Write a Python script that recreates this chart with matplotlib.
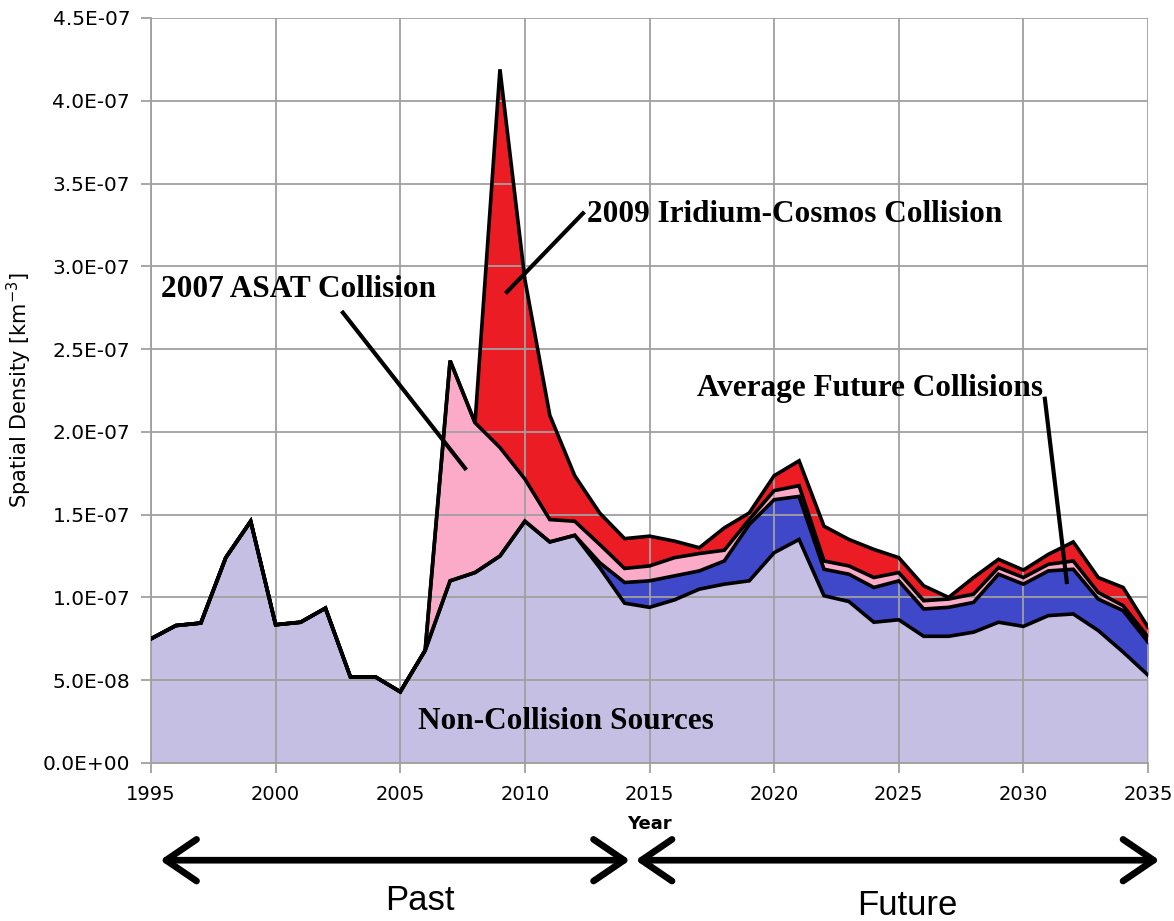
import matplotlib
matplotlib.use("Agg")
import matplotlib.pyplot as plt
import numpy as np

years = list(range(1995, 2036))

# layer thicknesses, units of 1e-7 km^-3
non_collision = [0.75, 0.83, 0.845, 1.24, 1.46, 0.835, 0.85, 0.935, 0.52, 0.52,
                 0.43, 0.68, 1.10, 1.15, 1.25, 1.46, 1.335, 1.375, 1.18, 0.965,
                 0.94, 0.985, 1.05, 1.08, 1.10, 1.27, 1.35, 1.01, 0.975, 0.85,
                 0.865, 0.765, 0.765, 0.79, 0.85, 0.825, 0.89, 0.90, 0.80, 0.67,
                 0.53]
future_collisions = [0, 0, 0, 0, 0, 0, 0, 0, 0, 0,
                     0, 0, 0, 0, 0, 0, 0, 0, 0.03, 0.125,
                     0.16, 0.145, 0.11, 0.14, 0.34, 0.32, 0.26, 0.16, 0.165, 0.21,
                     0.235, 0.165, 0.175, 0.18, 0.29, 0.255, 0.27, 0.27, 0.19, 0.25,
                     0.20]
asat_2007 = [0, 0, 0, 0, 0, 0, 0, 0, 0, 0,
             0, 0, 1.33, 0.905, 0.655, 0.255, 0.135, 0.085, 0.11, 0.085,
             0.09, 0.11, 0.105, 0.065, 0.03, 0.055, 0.065, 0.05, 0.05, 0.06,
             0.05, 0.05, 0.05, 0.05, 0.04, 0.04, 0.04, 0.05, 0.04, 0.03,
             0.03]
iridium_2009 = [0, 0, 0, 0, 0, 0, 0, 0, 0, 0,
                0, 0, 0, 0, 2.285, 1.206, 0.63, 0.275, 0.19, 0.18,
                0.18, 0.10, 0.035, 0.135, 0.04, 0.09, 0.15, 0.21, 0.16, 0.17,
                0.09, 0.09, 0.01, 0.10, 0.05, 0.045, 0.06, 0.115, 0.09, 0.11,
                0.06]

colors = ["#C6BFE4", "#3F48C9", "#FBAAC8", "#EC1C24"]

x = np.array(years)
layers = np.array([non_collision, future_collisions, asat_2007, iridium_2009]) * 1e-7
tops = np.cumsum(layers, axis=0)

fig = plt.figure(figsize=(11.74, 9.21), dpi=100)
ax = fig.add_axes([0.1286, 0.1716, 0.8493, 0.8089])

bottom = np.zeros_like(x, dtype=float)
for top, c in zip(tops, colors):
    ax.fill_between(x, bottom, top, color=c, lw=0, zorder=1)
    bottom = top
for top in tops:
    ax.plot(x, top, color="black", lw=2.6, zorder=3, solid_joinstyle="miter")

ax.set_xlim(1995, 2035)
ax.set_ylim(0, 4.5e-7)
ax.set_xticks(range(1995, 2036, 5))
ax.set_yticks(np.arange(0, 4.51e-7, 0.5e-7))
ax.set_yticklabels(["{:.1E}".format(v) for v in np.arange(0, 4.51e-7, 0.5e-7)])
ax.grid(True, color="#A0A0A0", lw=1.3, zorder=2)
ax.set_axisbelow(False)
for s in ["top", "right"]:
    ax.spines[s].set_visible(False)
for s in ["left", "bottom"]:
    ax.spines[s].set_color("#A0A0A0")
    ax.spines[s].set_linewidth(1.3)
ax.tick_params(axis="both", color="#A0A0A0", length=7, width=1.3)
ax.tick_params(axis="y", labelsize=14.5, pad=8)
ax.tick_params(axis="x", labelsize=14, pad=9)

ax.set_xlabel("Year", fontsize=13, fontweight="bold", labelpad=8)
ax.set_ylabel("Spatial Density [km$^{-3}$]", fontsize=15, labelpad=6)

serif = dict(family="Liberation Serif", fontweight="bold", fontsize=22.5, zorder=5)
ax.text(2012.5, 3.31e-7, "2009 Iridium-Cosmos Collision", ha="left", va="center", **serif)
ax.text(1995.4, 2.86e-7, "2007 ASAT Collision", ha="left", va="center", **serif)
ax.text(2016.9, 2.26e-7, "Average Future Collisions", ha="left", va="center", **serif)
ax.text(2005.7, 0.25e-7, "Non-Collision Sources", ha="left", va="center", **serif)

ax.plot([2012.33, 2009.28], [3.32e-7, 2.845e-7], color="black", lw=3, zorder=5)
ax.plot([2002.7, 2007.6], [2.72e-7, 1.78e-7], color="black", lw=3, zorder=5)
ax.plot([2030.86, 2031.74], [2.20e-7, 1.093e-7], color="black", lw=3, zorder=5)

# past / future arrows below the axis
arrow = dict(arrowstyle="<->,head_length=1.1,head_width=0.75", color="black", lw=4.8)
fig.add_artist(matplotlib.patches.FancyArrowPatch((0.134, 0.066), (0.539, 0.066),
               transform=fig.transFigure, mutation_scale=20, **arrow))
fig.add_artist(matplotlib.patches.FancyArrowPatch((0.539, 0.066), (0.99, 0.066),
               transform=fig.transFigure, mutation_scale=20, **arrow))
fig.text(0.358, 0.022, "Past", ha="center", va="center", fontsize=25, family="Liberation Sans")
fig.text(0.773, 0.017, "Future", ha="center", va="center", fontsize=25, family="Liberation Sans")

fig.savefig("out.png", dpi=100)
